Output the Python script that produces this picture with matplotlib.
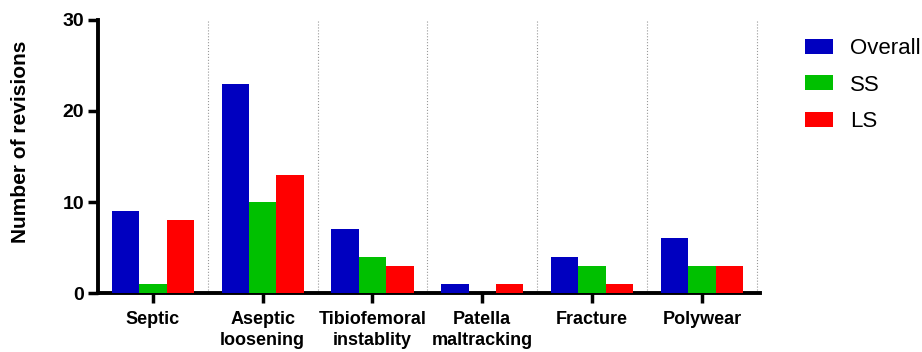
import matplotlib
matplotlib.use("Agg")
import matplotlib.pyplot as plt
import numpy as np

categories = ["Septic", "Aseptic\nloosening", "Tibiofemoral\ninstablity", "Patella\nmaltracking", "Fracture", "Polywear"]
overall = [9, 23, 7, 1, 4, 6]
ss = [1, 10, 4, 0, 3, 3]
ls = [8, 13, 3, 1, 1, 3]
series_names = ["Overall", "SS", "LS"]
colors = ["#0000C0", "#00C000", "#FF0000"]

plt.rcParams['font.family'] = ['Liberation Sans', 'DejaVu Sans']

fig = plt.figure(figsize=(9.22, 3.52), dpi=100)
ax = fig.add_axes([0.1063, 0.1676, 0.718, 0.7756])

x = np.arange(len(categories))
w = 0.25
for i, (vals, name, c) in enumerate(zip([overall, ss, ls], series_names, colors)):
    ax.bar(x + (i - 1) * w, vals, w, color=c, label=name, edgecolor='none', zorder=3)

for g in np.arange(0.5, len(categories), 1.0):
    ax.axvline(g, color='#999999', linestyle=':', linewidth=0.8, zorder=1)

ax.set_xlim(-0.5, len(categories) - 0.47)
ax.set_ylim(0, 30)
ax.set_yticks([0, 10, 20, 30])
ax.set_xticks(x)
ax.set_xticklabels(categories, fontsize=13, fontweight='bold', linespacing=1.32)
ax.tick_params(axis='y', labelsize=14, width=2.5, length=7, pad=3)
for lab in ax.get_yticklabels():
    lab.set_fontweight('bold')
ax.tick_params(axis='x', width=2.5, length=7, pad=6)
ax.set_ylabel("Number of revisions", fontsize=15, fontweight='bold')
ax.yaxis.set_label_coords(-0.103, 0.553)

for s in ['top', 'right']:
    ax.spines[s].set_visible(False)
for s in ['left', 'bottom']:
    ax.spines[s].set_linewidth(2.8)

leg = fig.legend(loc='upper left', bbox_to_anchor=(805 / 922, 1 - 38 / 352), frameon=False,
                 fontsize=16, handlelength=1.27, handleheight=0.64, labelspacing=0.7,
                 handletextpad=0.75, borderpad=0, borderaxespad=0)

fig.savefig("out.png", dpi=100)
